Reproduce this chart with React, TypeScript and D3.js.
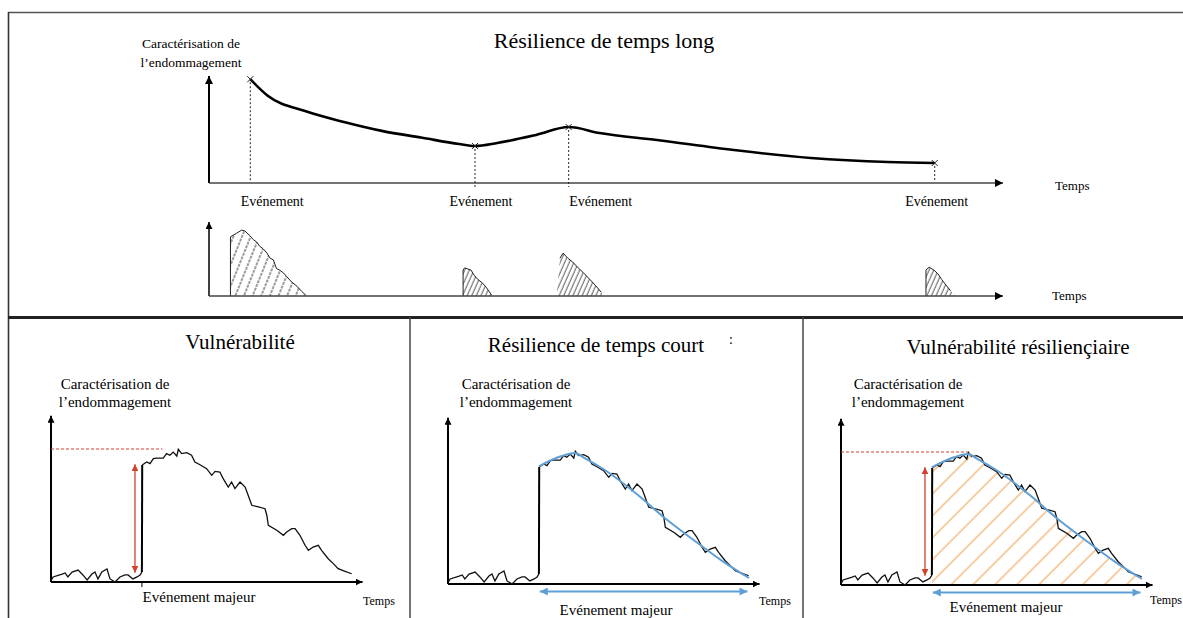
import React from "react";
import * as d3 from "d3";

// ---------------- DATA ----------------
const topTitle = "Résilience de temps long";
const panelTitles = ["Vulnérabilité", "Résilience de temps court", "Vulnérabilité résiliençiaire"];
const yLabelLines = ["Caractérisation de", "l’endommagement"];
const eventLabel = "Evénement";
const majorEventLabel = "Evénement majeur";
const timeLabel = "Temps";

// long-term damage characterisation (t: time units 0-100, v: damage 0-100)
const longTermCurve: [number, number][] = [
  [5.2, 97], [7.4, 81.5], [12.2, 67], [17.0, 57], [21.9, 48.5], [26.7, 42.5],
  [31.5, 36.4], [33.5, 34.6], [36.3, 37.4], [41.2, 44.9], [45.3, 52.3], [49.2, 46.7],
  [56.4, 40.2], [66.1, 30.8], [75.8, 23.4], [85.5, 19.6], [91.4, 18.7],
];
const longTermEvents: [number, number][] = [
  [5.2, 97], [33.5, 34.6], [45.3, 52.3], [91.4, 18.7],
];

// short-term responses (hatched areas) after each event
const response1: [number, number][] = [
  [2.7, 0], [2.7, 80], [3.5, 85], [4.1, 89], [4.5, 88], [5.2, 81], [5.6, 76], [6.0, 73],
  [6.4, 67], [6.8, 64], [7.3, 58], [7.7, 51], [8.1, 49], [8.5, 37], [8.9, 35], [9.4, 31],
  [9.8, 26], [10.4, 19], [11.1, 13], [11.7, 6], [12.2, 1], [12.2, 0],
];
const response2: [number, number][] = [
  [32.0, 0], [32.0, 35], [32.2, 38], [33.0, 35], [33.4, 28], [33.9, 22], [34.4, 18],
  [34.9, 12], [35.6, 1], [35.6, 0],
];
const response3: [number, number][] = [
  [43.8, 0], [44.2, 51], [44.6, 58], [45.2, 51], [45.8, 46], [46.5, 38], [47.1, 32],
  [48.0, 22], [48.7, 14], [49.4, 5], [49.7, 0],
];
const response4: [number, number][] = [
  [90.3, 0], [90.3, 35], [90.7, 39], [91.3, 35], [91.8, 30], [92.3, 22], [92.8, 15],
  [93.4, 7], [94.0, 0],
];

// major event: noisy damage signal (t 0-100, v 0-100)
const majorEventTime = 30.2;
const preEventNoise: [number, number][] = [
  [0, 1], [0.7, 3.8], [3.7, 6], [4.7, 6.8], [5.6, 3.8], [7, 7.5], [9, 9], [10.6, 5.3],
  [12, 1.5], [13.6, 6], [14.6, 7.5], [15.6, 2.3], [16.9, 7.5], [18.6, 9.8], [19.6, 2.3],
  [21.3, 0], [22.9, 3.8], [24.6, 5.3], [25.6, 5.3], [27.2, 2.3], [28.6, 3.8], [29.6, 5.3],
  [30.2, 7.5],
];
const postEventSignal: [number, number][] = [
  [30.3, 88], [31.8, 90.2], [32.9, 89], [34, 92.7], [35.1, 93.2], [37.3, 93.2], [38.4, 96.5],
  [39.5, 95.3], [40.6, 97.7], [41.8, 94.7], [42.3, 99.8], [43.4, 96.5], [45.1, 97.2],
  [46.7, 95.3], [47.8, 90.2], [49.5, 88.2], [51.7, 85.2], [53.4, 80.2], [54.5, 83.2],
  [56.1, 82.7], [57.2, 77.7], [58.9, 71.4], [60, 75.2], [61.1, 70.2], [62.8, 75.2],
  [64.5, 71.4], [65.5, 65.2], [66.7, 57.7], [68.9, 56.4], [71.1, 55.1], [71.7, 50.2],
  [72.2, 42.6], [75, 38.9], [77.2, 35.1], [78.3, 37.6], [80, 40.1], [81.1, 40.1],
  [82.7, 35.1], [84.4, 27.6], [85.5, 23.8], [87.1, 26.3], [88.8, 27.6], [89.9, 23.8],
  [92.1, 17.5], [93.8, 13.8], [95.4, 10], [97.7, 8], [99.9, 6.2],
];
// smoothed recovery trend (blue)
const recoveryTrend: [number, number][] = [
  [30.2, 88.5], [37.5, 96], [42.1, 98.5], [45.4, 94.7], [52.1, 85.7], [63.1, 66.9],
  [72, 49.6], [80.7, 34.6], [90.7, 18], [100, 4.5],
];
const peakDamage = 100;
const impactRange: [number, number] = [7, 88.5]; // red arrow, damage levels
const recoverySpan: [number, number] = [30.5, 99.5]; // blue arrow, time

// ---------------- STYLE / LAYOUT ----------------
const FONT = "'Liberation Serif', 'Times New Roman', Times, serif";
const RED = "#d5402b";
const BLUE = "#5f9fd6";
const ORANGE = "#f2a556";

type PanelCfg = {
  title: string;
  titleX: number;
  titleY: number;
  axisX: number;
  axisY: number;
  labelDx: number;
  majorX: number;
  majorY: number;
  tempsX: number;
  tempsY: number;
  dashedTo: number | null;
  redArrow: boolean;
  trend: boolean;
  hatch: boolean;
  extra?: string;
};

const panels: PanelCfg[] = [
  { title: panelTitles[0], titleX: 240, titleY: 349, axisX: 51, axisY: 582, labelDx: 64,
    majorX: 199, majorY: 602, tempsX: 363, tempsY: 605, dashedTo: 37, redArrow: true, trend: false, hatch: false },
  { title: panelTitles[1], titleX: 596, titleY: 352, axisX: 448, axisY: 584, labelDx: 68,
    majorX: 616, majorY: 615, tempsX: 759, tempsY: 605, dashedTo: null, redArrow: false, trend: true, hatch: false, extra: ":" },
  { title: panelTitles[2], titleX: 1018, titleY: 354, axisX: 841, axisY: 585, labelDx: 67,
    majorX: 1006, majorY: 612, tempsX: 1150, tempsY: 604, dashedTo: 42, redArrow: true, trend: true, hatch: true },
];

function Markers() {
  return (
    <defs>
      <marker id="arrowBlk" viewBox="0 0 10 10" refX="10" refY="5" markerWidth="8" markerHeight="8"
        markerUnits="userSpaceOnUse" orient="auto-start-reverse">
        <path d="M0,0L10,5L0,10z" fill="#000" />
      </marker>
      <marker id="arrowSm" viewBox="0 0 10 10" refX="10" refY="5" markerWidth="7" markerHeight="7"
        markerUnits="userSpaceOnUse" orient="auto-start-reverse">
        <path d="M0,0L10,5L0,10z" fill="#000" />
      </marker>
      <marker id="arrowRed" viewBox="0 0 10 10" refX="10" refY="5" markerWidth="7" markerHeight="7"
        markerUnits="userSpaceOnUse" orient="auto-start-reverse">
        <path d="M0,0L10,5L0,10z" fill={RED} />
      </marker>
      <marker id="arrowBlue" viewBox="0 0 10 10" refX="10" refY="5" markerWidth="9" markerHeight="8"
        markerUnits="userSpaceOnUse" orient="auto-start-reverse">
        <path d="M0,0L10,5L0,10z" fill={BLUE} />
      </marker>
      <pattern id="hatchWide" patternUnits="userSpaceOnUse" width="8" height="8" patternTransform="rotate(22)">
        <line x1="1" y1="-1" x2="1" y2="9" stroke="#222" strokeWidth="0.9" strokeDasharray="3 1" />
      </pattern>
      <pattern id="hatchDense" patternUnits="userSpaceOnUse" width="4.2" height="8" patternTransform="rotate(24)">
        <line x1="1" y1="-1" x2="1" y2="9" stroke="#222" strokeWidth="0.8" />
      </pattern>
      <pattern id="hatchOrange" patternUnits="userSpaceOnUse" width="15.5" height="15.5" patternTransform="rotate(45)">
        <line x1="1" y1="-1" x2="1" y2="16.5" stroke={ORANGE} strokeWidth="1.1" />
      </pattern>
    </defs>
  );
}

function TopPanel() {
  const x = d3.scaleLinear().domain([0, 100]).range([209, 1003]);
  const y = d3.scaleLinear().domain([0, 100]).range([183, 76]);
  const yR = d3.scaleLinear().domain([0, 100]).range([296, 222]);
  const line = d3.line<[number, number]>().x((d) => x(d[0])).y((d) => y(d[1])).curve(d3.curveMonotoneX);
  const shape = d3.line<[number, number]>().x((d) => x(d[0])).y((d) => yR(d[1]));
  const labelShift = [22, 6, 32, 2];
  const responses = [response1, response2, response3, response4];
  const outlineFrom = [0, 0, 1, 0];
  return (
    <g fontFamily={FONT}>
      <text x={604} y={48} fontSize={22} textAnchor="middle">{topTitle}</text>
      {yLabelLines.map((l, i) => (
        <text key={i} x={191} y={48 + i * 18.5} fontSize={13.5} textAnchor="middle">{l}</text>
      ))}
      {/* axes */}
      <line x1={x(0)} y1={y(0)} x2={x(0)} y2={y(100)} stroke="#000" strokeWidth={2} markerEnd="url(#arrowBlk)" />
      <line x1={x(0)} y1={y(0)} x2={x(100)} y2={y(0)} stroke="#444" strokeWidth={1.3} markerEnd="url(#arrowBlk)" />
      <text x={1055} y={190} fontSize={13}>{timeLabel}</text>
      {/* dotted event lines */}
      {longTermEvents.map((e, i) => (
        <line key={i} x1={x(e[0])} y1={y(e[1]) + 3} x2={x(e[0])} y2={y(0) + (i === 1 || i === 2 ? 4 : -2)}
          stroke="#222" strokeWidth={1} strokeDasharray="2 2" />
      ))}
      <path d={line(longTermCurve) || ""} fill="none" stroke="#000" strokeWidth={2.6} />
      {longTermEvents.map((e, i) => (
        <path key={i} transform={`translate(${x(e[0])},${y(e[1])})`} d="M-3,-3L3,3M-3,3L3,-3" stroke="#222" strokeWidth={1} />
      ))}
      {longTermEvents.map((e, i) => (
        <text key={i} x={x(e[0]) + labelShift[i]} y={206} fontSize={14} textAnchor="middle">{eventLabel}</text>
      ))}
      {/* response chart */}
      <line x1={x(0)} y1={yR(0)} x2={x(0)} y2={yR(100)} stroke="#000" strokeWidth={1.5} markerEnd="url(#arrowSm)" />
      {responses.map((r, i) => (
        <g key={i}>
          <path d={(shape(r) || "") + "Z"} fill={i === 0 ? "url(#hatchWide)" : "url(#hatchDense)"} stroke="none" />
          <path d={shape(r.slice(outlineFrom[i], r.length - 1)) || ""} fill="none" stroke="#222" strokeWidth={1} />
        </g>
      ))}
      <line x1={x(0)} y1={yR(0)} x2={x(100)} y2={yR(0)} stroke="#444" strokeWidth={1.3} markerEnd="url(#arrowBlk)" />
      <text x={1052} y={300} fontSize={13}>{timeLabel}</text>
    </g>
  );
}

function MajorPanel({ cfg, idx }: { cfg: PanelCfg; idx: number }) {
  const x = d3.scaleLinear().domain([0, 100]).range([cfg.axisX, cfg.axisX + 301]);
  const y = d3.scaleLinear().domain([0, 100]).range([cfg.axisY, cfg.axisY - 133]);
  const lin = d3.line<[number, number]>().x((d) => x(d[0])).y((d) => y(d[1]));
  const smooth = d3.line<[number, number]>().x((d) => x(d[0])).y((d) => y(d[1])).curve(d3.curveMonotoneX);
  const hatchArea = d3.area<[number, number]>().x((d) => x(d[0])).y0(y(0)).y1((d) => y(d[1])).curve(d3.curveMonotoneX);
  const pre = preEventNoise[preEventNoise.length - 1];
  const post = postEventSignal[0];
  return (
    <g fontFamily={FONT}>
      <text x={cfg.titleX} y={cfg.titleY} fontSize={21} textAnchor="middle">{cfg.title}</text>
      {cfg.extra && <text x={729} y={344} fontSize={14}>{cfg.extra}</text>}
      {yLabelLines.map((l, i) => (
        <text key={i} x={cfg.axisX + cfg.labelDx} y={389 + i * 18} fontSize={15} textAnchor="middle">{l}</text>
      ))}
      {cfg.hatch && <path d={hatchArea(recoveryTrend) || ""} fill="url(#hatchOrange)" />}
      {/* axes */}
      <line x1={x(0)} y1={y(0)} x2={x(0)} y2={y(125)} stroke="#000" strokeWidth={2} markerEnd="url(#arrowSm)" />
      <line x1={x(0)} y1={y(0)} x2={x(103.5)} y2={y(0)} stroke="#000" strokeWidth={2.2} markerEnd="url(#arrowSm)" />
      {idx === 0 && <line x1={x(majorEventTime)} y1={y(0)} x2={x(majorEventTime)} y2={y(0) + 5} stroke="#000" strokeWidth={1} />}
      <text x={cfg.tempsX} y={cfg.tempsY} fontSize={12}>{timeLabel}</text>
      <text x={cfg.majorX} y={cfg.majorY} fontSize={15} textAnchor="middle">{majorEventLabel}</text>
      {cfg.dashedTo !== null && (
        <line x1={x(0)} y1={y(peakDamage)} x2={x(cfg.dashedTo)} y2={y(peakDamage)} stroke={RED}
          strokeWidth={1} strokeDasharray="3 2" />
      )}
      {cfg.redArrow && (
        <line x1={x(majorEventTime - 2.3)} y1={y(impactRange[0])} x2={x(majorEventTime - 2.3)} y2={y(impactRange[1])}
          stroke={RED} strokeWidth={1.3} markerStart="url(#arrowRed)" markerEnd="url(#arrowRed)" />
      )}
      {/* signal */}
      <path d={lin(preEventNoise) || ""} fill="none" stroke="#111" strokeWidth={1.3} />
      <line x1={x(pre[0])} y1={y(pre[1])} x2={x(post[0])} y2={y(post[1])} stroke="#000" strokeWidth={2} />
      <path d={lin(postEventSignal) || ""} fill="none" stroke="#111" strokeWidth={1.3} />
      {cfg.trend && <path d={smooth(recoveryTrend) || ""} fill="none" stroke={BLUE} strokeWidth={2} />}
      {cfg.trend && (
        <line x1={x(recoverySpan[0])} y1={y(0) + 7.5} x2={x(recoverySpan[1])} y2={y(0) + 7.5} stroke={BLUE}
          strokeWidth={2} markerStart="url(#arrowBlue)" markerEnd="url(#arrowBlue)" />
      )}
    </g>
  );
}

export default function App() {
  return (
    <svg width={1183} height={618} style={{ position: "absolute", left: 0, top: 0, background: "#fff" }}>
      <Markers />
      <rect x={0} y={0} width={1183} height={618} fill="#fff" />
      {/* frames */}
      <line x1={8} y1={12.5} x2={1183} y2={12.5} stroke="#555" strokeWidth={1.5} />
      <line x1={8.5} y1={12} x2={8.5} y2={618} stroke="#333" strokeWidth={1.6} />
      <line x1={8} y1={317.5} x2={1183} y2={317.5} stroke="#222" strokeWidth={3} />
      <line x1={410} y1={317} x2={410} y2={618} stroke="#444" strokeWidth={1.5} />
      <line x1={803} y1={317} x2={803} y2={618} stroke="#444" strokeWidth={1.5} />
      <TopPanel />
      {panels.map((p, i) => (
        <MajorPanel key={i} cfg={p} idx={i} />
      ))}
    </svg>
  );
}
